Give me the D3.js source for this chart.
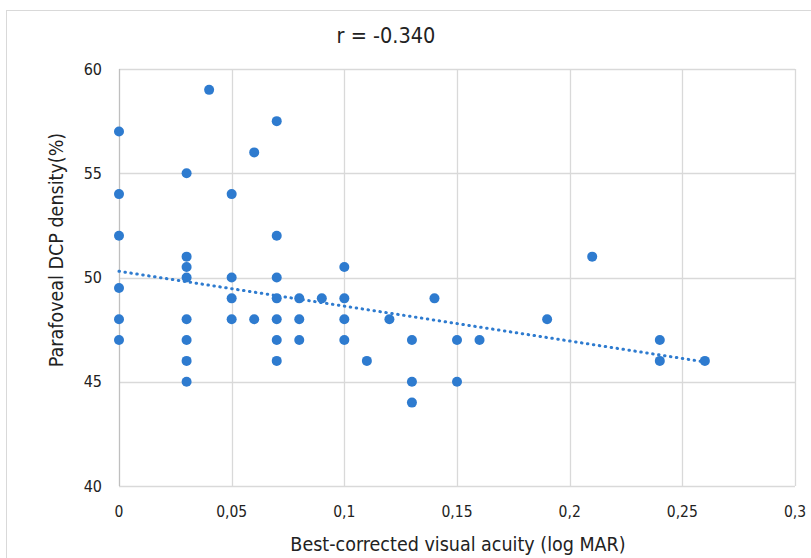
<!DOCTYPE html>
<html>
<head>
<meta charset="utf-8">
<script src="https://cdn.jsdelivr.net/npm/d3@7"></script>
<style>
  body { margin: 0; background: #fff; }
  text { font-family: "DejaVu Sans Condensed", "DejaVu Sans", sans-serif; fill: #222; }
</style>
</head>
<body>
<div class="chart"></div>
<script>
// data
var acuity  = [0, 0, 0, 0, 0, 0,
               0.03, 0.03, 0.03, 0.03, 0.03, 0.03, 0.03, 0.03,
               0.04, 0.05, 0.05, 0.05, 0.05, 0.06, 0.06,
               0.07, 0.07, 0.07, 0.07, 0.07, 0.07, 0.07,
               0.08, 0.08, 0.08, 0.09, 0.1, 0.1, 0.1, 0.1,
               0.11, 0.12, 0.13, 0.13, 0.13, 0.14, 0.15, 0.15, 0.16,
               0.19, 0.21, 0.24, 0.24, 0.26];
var density = [57, 54, 52, 49.5, 48, 47,
               55, 51, 50.5, 50, 48, 47, 46, 45,
               59, 54, 50, 49, 48, 56, 48,
               57.5, 52, 50, 49, 48, 47, 46,
               49, 48, 47, 49, 50.5, 49, 48, 47,
               46, 48, 47, 45, 44, 49, 47, 45, 47,
               48, 51, 47, 46, 46];
var xTicks = [0, 0.05, 0.1, 0.15, 0.2, 0.25, 0.3];
var yTicks = [40, 45, 50, 55, 60];
var trendX = [0, 0.26];
var trendY = [50.3, 45.95];

var margin = { top: 69, right: 16, bottom: 72, left: 119 },
    width  = 811 - margin.left - margin.right,
    height = 558 - margin.top - margin.bottom;

var x = d3.scaleLinear().domain([0, 0.3]).range([0, width]);
var y = d3.scaleLinear().domain([40, 60]).range([height, 0]);
var fmt = function(d){ return String(d).replace('.', ','); };

var root = d3.select('.chart').append('svg')
    .attr('width', 811).attr('height', 558);

root.append('rect')
    .attr('x', 6.5).attr('y', 10.5)
    .attr('width', 820).attr('height', 560)
    .attr('fill', 'none').attr('stroke', '#d9d9d9');

var svg = root.append('g')
    .attr('transform', 'translate(' + margin.left + ',' + margin.top + ')');

// grid
svg.selectAll('.hgrid').data(yTicks).enter().append('line')
    .attr('x1', 0).attr('x2', width)
    .attr('y1', function(d){ return Math.round(y(d)) + 0.5; })
    .attr('y2', function(d){ return Math.round(y(d)) + 0.5; })
    .attr('stroke', '#d9d9d9').attr('stroke-width', 1.3);

svg.selectAll('.vgrid').data(xTicks).enter().append('line')
    .attr('y1', 0).attr('y2', height)
    .attr('x1', function(d){ return Math.round(x(d)) + 0.5; })
    .attr('x2', function(d){ return Math.round(x(d)) + 0.5; })
    .attr('stroke', function(d){ return d === 0 ? '#bfbfbf' : '#d9d9d9'; })
    .attr('stroke-width', 1.3);

// tick labels
svg.selectAll('.ylab').data(yTicks).enter().append('text')
    .attr('x', -17).attr('y', function(d){ return y(d); })
    .attr('dy', '0.35em').attr('text-anchor', 'end')
    .attr('font-size', 16)
    .text(function(d){ return d; });

svg.selectAll('.xlab').data(xTicks).enter().append('text')
    .attr('x', function(d){ return x(d); }).attr('y', height + 26)
    .attr('dy', '0.35em').attr('text-anchor', 'middle')
    .attr('font-size', 15.5)
    .text(fmt);

// trend line
var pts = trendX.map(function(d, i){ return [d, trendY[i]]; });
svg.append('path')
    .datum(pts)
    .attr('d', d3.line().x(function(d){ return x(d[0]); }).y(function(d){ return y(d[1]); }))
    .attr('fill', 'none').attr('stroke', '#2e7bcf')
    .attr('stroke-width', 3).attr('stroke-linecap', 'round')
    .attr('stroke-dasharray', '0.5,5.5');

// points
svg.selectAll('circle').data(acuity).enter().append('circle')
    .attr('cx', function(d){ return x(d); })
    .attr('cy', function(d, i){ return y(density[i]); })
    .attr('r', 5)
    .attr('fill', '#2e7bcf');

// titles
root.append('text')
    .attr('x', 386).attr('y', 43)
    .attr('text-anchor', 'middle').attr('font-size', 21.5)
    .text('r = -0.340');

root.append('text')
    .attr('x', 458).attr('y', 544).attr('dy', '0.35em')
    .attr('text-anchor', 'middle').attr('font-size', 19.5)
    .text('Best-corrected visual acuity (log MAR)');

root.append('text')
    .attr('transform', 'translate(56,250) rotate(-90)')
    .attr('dy', '0.35em')
    .attr('text-anchor', 'middle').attr('font-size', 19.5)
    .text('Parafoveal DCP density(%)');
</script>
</body>
</html>
